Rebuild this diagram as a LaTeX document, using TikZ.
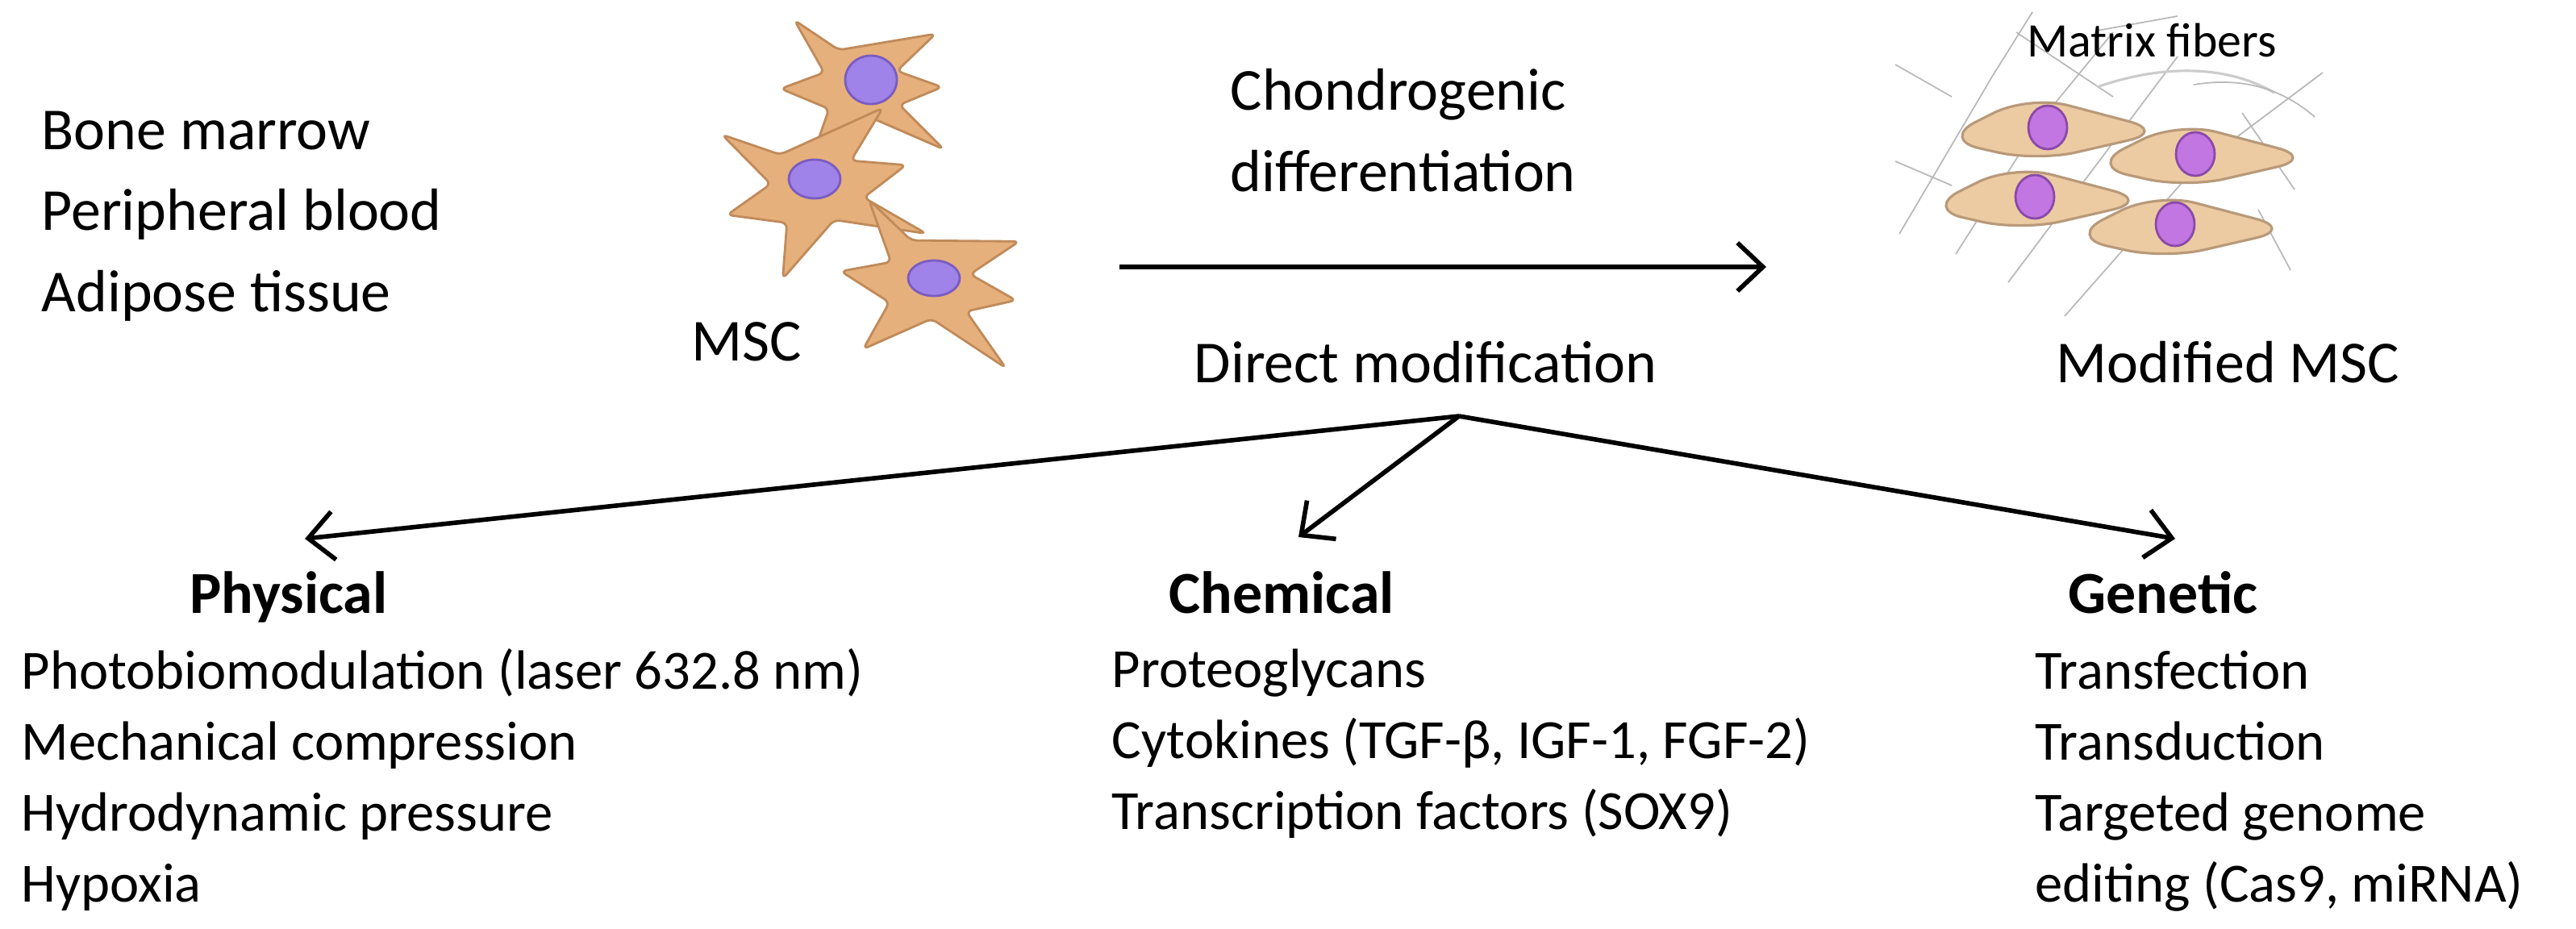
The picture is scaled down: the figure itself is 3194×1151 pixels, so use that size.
\documentclass[tikz,border=0pt]{standalone}
\usepackage{fontspec}
\setmainfont{Carlito}
\usetikzlibrary{arrows.meta}
\definecolor{cellA}{HTML}{E6B07C}
\definecolor{cellAd}{HTML}{C08A5A}
\definecolor{nucA}{HTML}{A083E8}
\definecolor{nucAd}{HTML}{7A5CC0}
\definecolor{cellB}{HTML}{EDCBA2}
\definecolor{cellBd}{HTML}{B89A7A}
\definecolor{nucB}{HTML}{C276E2}
\definecolor{nucBd}{HTML}{8A4AA8}
\tikzset{
  txt/.style={font=\fontsize{21}{28.5}\selectfont, anchor=base west, inner sep=0, align=left},
  lst/.style={font=\fontsize{19.5}{25}\selectfont, anchor=base west, inner sep=0, align=left},
  hd/.style={font=\fontsize{21}{25}\selectfont\bfseries, anchor=base west, inner sep=0},
  arr/.style={line width=1.6pt, -{Straight Barb[length=9pt,width=17pt,line width=1.6pt]}},
  mscell/.style={fill=cellA, draw=cellAd, line width=0.8pt, rounded corners=2pt},
  mscnuc/.style={fill=nucA, draw=nucAd, line width=0.8pt},
  modcell/.style={fill=cellB, draw=cellBd, line width=0.9pt, rounded corners=14pt},
  modnuc/.style={fill=nucB, draw=nucBd, line width=0.8pt},
  fiber/.style={draw=gray!55, line width=0.5pt}
}
\begin{document}
\begin{tikzpicture}[x=0.01cm,y=-0.01cm]
\useasboundingbox (0,0) rectangle (3194,1151);
% ---- source list (anchor = last baseline)
\node[txt] (src) at (51,386) {Bone marrow\\Peripheral blood\\Adipose tissue};
% ---- MSC cells
\foreach \cx/\cy/\r/\s in {1070/100/0/1.0, 1012/225/15/1.15, 1155/345/-10/1.1}{
  \begin{scope}[shift={(\cx,\cy)}, rotate=\r, scale=\s]
    \draw[mscell] (-85,-75) -- (-30,-38) -- (90,-58) -- (42,-12) -- (98,8) -- (45,30) -- (100,85) -- (8,45) -- (-62,92) -- (-42,35) -- (-102,10) -- (-48,-10) -- cycle;
  \end{scope}
}
\draw[mscnuc] (1080,99) ellipse [x radius=32, y radius=30];
\draw[mscnuc] (1010,222) ellipse [x radius=32, y radius=24];
\draw[mscnuc] (1158,345) ellipse [x radius=32, y radius=22];
\node[txt] (msc) at (857,447) {MSC};
% ---- texts in middle
\node[txt] (chon) at (1525,237) {Chondrogenic\\differentiation};
\node[txt] (dir) at (1480,474) {Direct modification};
\coordinate (a0) at (1388,331);
\coordinate (a1) at (2190,331);
\draw[arr] (a0) -- (a1);
% ---- matrix fibers
\draw[fiber] (2355,290) -- (2470,95) -- (2520,15);
\draw[fiber] (2425,315) -- (2530,150) -- (2620,40);
\draw[fiber] (2490,350) -- (2610,190) -- (2700,70);
\draw[fiber] (2560,392) -- (2720,210) -- (2880,90);
\draw[fiber] (2420,120) -- (2350,80);
\draw[fiber] (2420,230) -- (2350,200);
\draw[fiber] (2500,40) -- (2620,120);
\draw[fiber] (2800,260) -- (2840,335);
\draw[fiber] (2780,140) -- (2845,235);
\draw[fiber, gray!40, line width=0.9pt] (2600,108) .. controls (2680,80) and (2760,80) .. (2820,115);
\draw[fiber] (2870,145) .. controls (2830,110) and (2780,95) .. (2720,105);
\draw[fiber] (2600,38) -- (2700,20);
\node[font=\fontsize{17}{20}\selectfont, anchor=base west, inner sep=0] (mf) at (2513,70) {Matrix fibers};
% ---- modified cells
\foreach \x/\y in {2406/118, 2590/151, 2386/204, 2564/239}{
  \draw[modcell] (\x,\y+55) -- (\x+110,\y) -- (\x+281,\y+45) -- (\x+120,\y+82) -- cycle;
}
\draw[modnuc] (2539,158) ellipse [x radius=24, y radius=27];
\draw[modnuc] (2722,191) ellipse [x radius=24, y radius=27];
\draw[modnuc] (2523,244) ellipse [x radius=24, y radius=27];
\draw[modnuc] (2697,278) ellipse [x radius=24, y radius=27];
\node[txt] (mod) at (2549,474) {Modified MSC};
% ---- fan arrows
\coordinate (hub) at (1809,516);
\coordinate (tp) at (378,668);
\coordinate (tc) at (1610,666);
\coordinate (tg) at (2697,668);
\draw[arr] (hub) -- (tp);
\draw[arr] (hub) -- (tc);
\draw[arr] (hub) -- (tg);
% ---- categories
\node[hd] (phys) at (235,760) {Physical};
\node[hd] (chem) at (1449,760) {Chemical};
\node[hd] (gen) at (2564,760) {Genetic};
\node[lst] (pl) at (26,1118) {Photobiomodulation (laser 632.8 nm)\\Mechanical compression\\Hydrodynamic pressure\\Hypoxia};
\node[lst] (cl) at (1378,1028) {Proteoglycans\\Cytokines (TGF-β, IGF-1, FGF-2)\\Transcription factors (SOX9)};
\node[lst] (gl) at (2523,1118) {Transfection\\Transduction\\Targeted genome\\editing (Cas9, miRNA)};
\end{tikzpicture}
\end{document}
